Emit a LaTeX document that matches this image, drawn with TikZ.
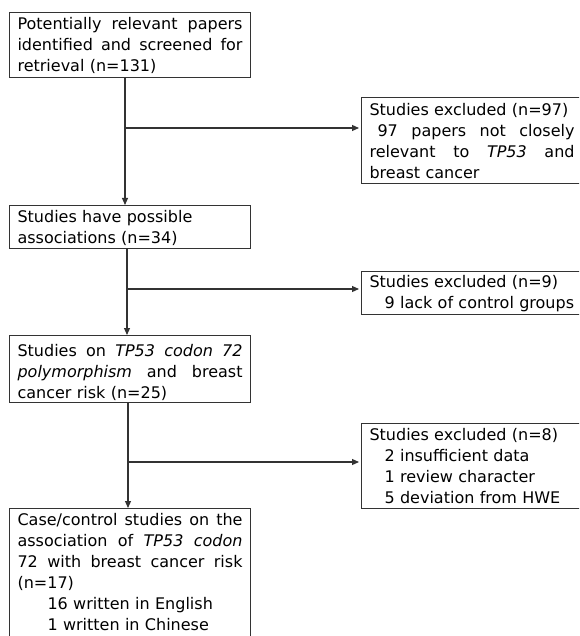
\documentclass[tikz,border=0pt]{standalone}
\usepackage{fontspec}
\setmainfont{DejaVu Sans}
\usetikzlibrary{arrows.meta}
\newcommand{\tstrut}[1]{\rule{0pt}{#1pt}}
\newcommand{\bstrut}[1]{\rule[-#1pt]{0pt}{#1pt}}
\newcommand{\jl}[2]{\makebox[#1pt][s]{\spaceskip=0.318em plus 1fil\relax\xspaceskip=0pt\relax#2}}
\begin{document}
\begin{tikzpicture}[x=1pt,y=-1pt,
  box/.style={draw=black!80, line width=1.1pt, anchor=north west, inner xsep=8pt, inner ysep=0pt, align=left, font=\fontsize{16pt}{21pt}\selectfont},
  lbox/.style={box, text width=225pt},
  rbox/.style={box, text width=205pt},
  conn/.style={draw=black!80, line width=1.1pt},
  arr/.style={conn, -{Triangle[length=7pt,width=6pt]}}]
\useasboundingbox (0,0) rectangle (579,636);
\clip (0,0) rectangle (579,636);
\fill[white] (0,0) rectangle (579,636);

\node[lbox] (b1) at (9,12) {\tstrut{17}\jl{225}{Potentially relevant papers}\\\jl{225}{identified and screened for}\\retrieval (n=131)\bstrut{6}};
\node[lbox] (b2) at (9,205) {\tstrut{17}Studies have possible\\associations (n=34)\bstrut{5}};
\node[lbox] (b3) at (9,335) {\tstrut{21}\jl{225}{Studies on \textit{TP53 codon 72}}\\\jl{225}{\textit{polymorphism} and breast}\\cancer risk (n=25)\bstrut{4}};
\node[lbox] (b4) at (9,508) {\tstrut{17}\jl{225}{Case/control studies on the}\\\jl{225}{association of \textit{TP53 codon}}\\\jl{225}{72 with breast cancer risk}\\(n=17)\\\hspace*{30pt}16 written in English\\\hspace*{30pt}1 written in Chinese\bstrut{20}};

\node[rbox] (r1) at (361,97) {\tstrut{18}Studies excluded (n=97)\\\jl{205}{\hspace*{8pt}97 papers not closely}\\\jl{205}{relevant to \textit{TP53} and}\\breast cancer\bstrut{5}};
\node[rbox] (r2) at (361,271) {\tstrut{16}Studies excluded (n=9)\\\hspace*{15pt}9 lack of control groups\bstrut{6}};
\node[rbox] (r3) at (361,423) {\tstrut{17}Studies excluded (n=8)\\\hspace*{15pt}2 insufficient data\\\hspace*{15pt}1 review character\\\hspace*{15pt}5 deviation from HWE\bstrut{5}};

\coordinate (xa) at (125,0);
\coordinate (xb) at (127,0);
\coordinate (xc) at (128,0);
\coordinate (j1) at (125,128);
\coordinate (j2) at (127,289);
\coordinate (j3) at (128,462);

\draw[arr] (b1.south -| xa) -- (b2.north -| xa);
\draw[arr] (b2.south -| xb) -- (b3.north -| xb);
\draw[arr] (b3.south -| xc) -- (b4.north -| xc);

\draw[arr, shorten >=2pt] (j1) -- (r1.west |- j1);
\draw[arr, shorten >=2pt] (j2) -- (r2.west |- j2);
\draw[arr, shorten >=2pt] (j3) -- (r3.west |- j3);
\end{tikzpicture}
\end{document}
